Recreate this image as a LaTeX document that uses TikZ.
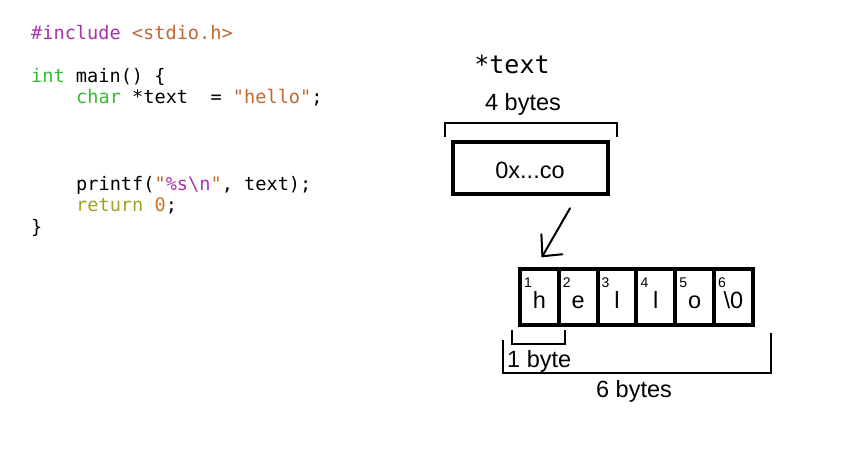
\documentclass[tikz,border=0pt]{standalone}
\usepackage{fontspec}
\setmainfont{Liberation Sans}
\newfontfamily\codefont{DejaVu Sans Mono}
\usepackage{tikz}
\usepackage{xcolor}
\definecolor{ppColor}{RGB}{170,50,170}
\definecolor{strColor}{RGB}{190,105,50}
\definecolor{typeColor}{RGB}{55,185,55}
\definecolor{retColor}{RGB}{160,160,40}
\definecolor{numColor}{RGB}{200,115,40}

\begin{document}
\begin{tikzpicture}
		[x=1pt,y=-1pt,
		codeDecorate/.style={anchor=base west,inner sep=0pt,font=\codefont\fontsize{18.6}{21.5}\selectfont},%
		labelDecorate/.style={anchor=base,inner sep=0pt,font=\fontsize{23.5}{26}\selectfont},%
		ptrDecorate/.style={draw,line width=4pt,minimum width=155pt,minimum height=52.5pt,inner sep=0pt,outer sep=0pt,text height=20pt,text depth=0pt,font=\fontsize{23.5}{26}\selectfont},%
		cellDecorate/.style={draw,line width=4pt,minimum width=38.8pt,minimum height=55.5pt,inner sep=0pt,outer sep=0pt,text height=22pt,text depth=0pt,font=\fontsize{23.5}{26}\selectfont},%
		numDecorate/.style={inner sep=0pt,font=\fontsize{14}{16}\selectfont},%
		bracketDecorate/.style={line width=1.7pt},%
		arrowDecorate/.style={line width=2pt,line cap=round,line join=round}]
		\useasboundingbox (0,0) rectangle (855,451);
		%% source code
		\foreach \nodename/\x/\y/\txt in {
			inc/31/39/{\textcolor{ppColor}{\#include} \textcolor{strColor}{<stdio.h>}},
			main/31/82/{\textcolor{typeColor}{int} main() \{},
			decl/76/103.5/{\textcolor{typeColor}{char} *text\ \ = \textcolor{strColor}{"hello"};},
			print/76/190/{printf(\textcolor{strColor}{"}\textcolor{ppColor}{\%s\textbackslash n}\textcolor{strColor}{"}, text);},
			ret/76/211.5/{\textcolor{retColor}{return} \textcolor{numColor}{0};},
			close/31/233/{\}}}
		{
			\node[codeDecorate] (\nodename) at (\x,\y) {\txt};
		}
		%% pointer
		\node[labelDecorate,font=\codefont\fontsize{25}{28}\selectfont] (ptrname) at (512,73) {*text};
		\node[labelDecorate] (ptrsize) at (523,110) {4 bytes};
		\node[ptrDecorate] (ptr) at (530,168) {0x...co};
		\draw[bracketDecorate] (445,137) -- (445,123) -- (617,123) -- (617,137);
		%% characters
		\foreach \ch [count=\i] in {h,e,l,l,o,{\textbackslash0}}
		{
			\node[cellDecorate] (cell\i) at (520+38.8*\i-19.4,297) {\ch};
			\node[numDecorate] at ([xshift=8pt,yshift=-13pt]cell\i.north west) {\i};
		}
		\coordinate (tip) at ([xshift=3pt,yshift=13pt]cell1.north);
		\draw[arrowDecorate] ([xshift=40pt,yshift=-14pt]ptr.south) -- (tip);
		\draw[arrowDecorate] ([xshift=-1pt,yshift=22pt]tip) -- (tip) -- ([xshift=20pt,yshift=2pt]tip);
		%% sizes
		\draw[bracketDecorate] (512,330) -- (512,344) -- (565,344) -- (565,330);
		\node[labelDecorate,anchor=base west] (onebyte) at (507,367) {1 byte};
		\draw[bracketDecorate] (503,340) -- (503,373) -- (771,373) -- (771,333);
		\node[labelDecorate] (sixbytes) at (634,397) {6 bytes};
	\end{tikzpicture}
\end{document}
